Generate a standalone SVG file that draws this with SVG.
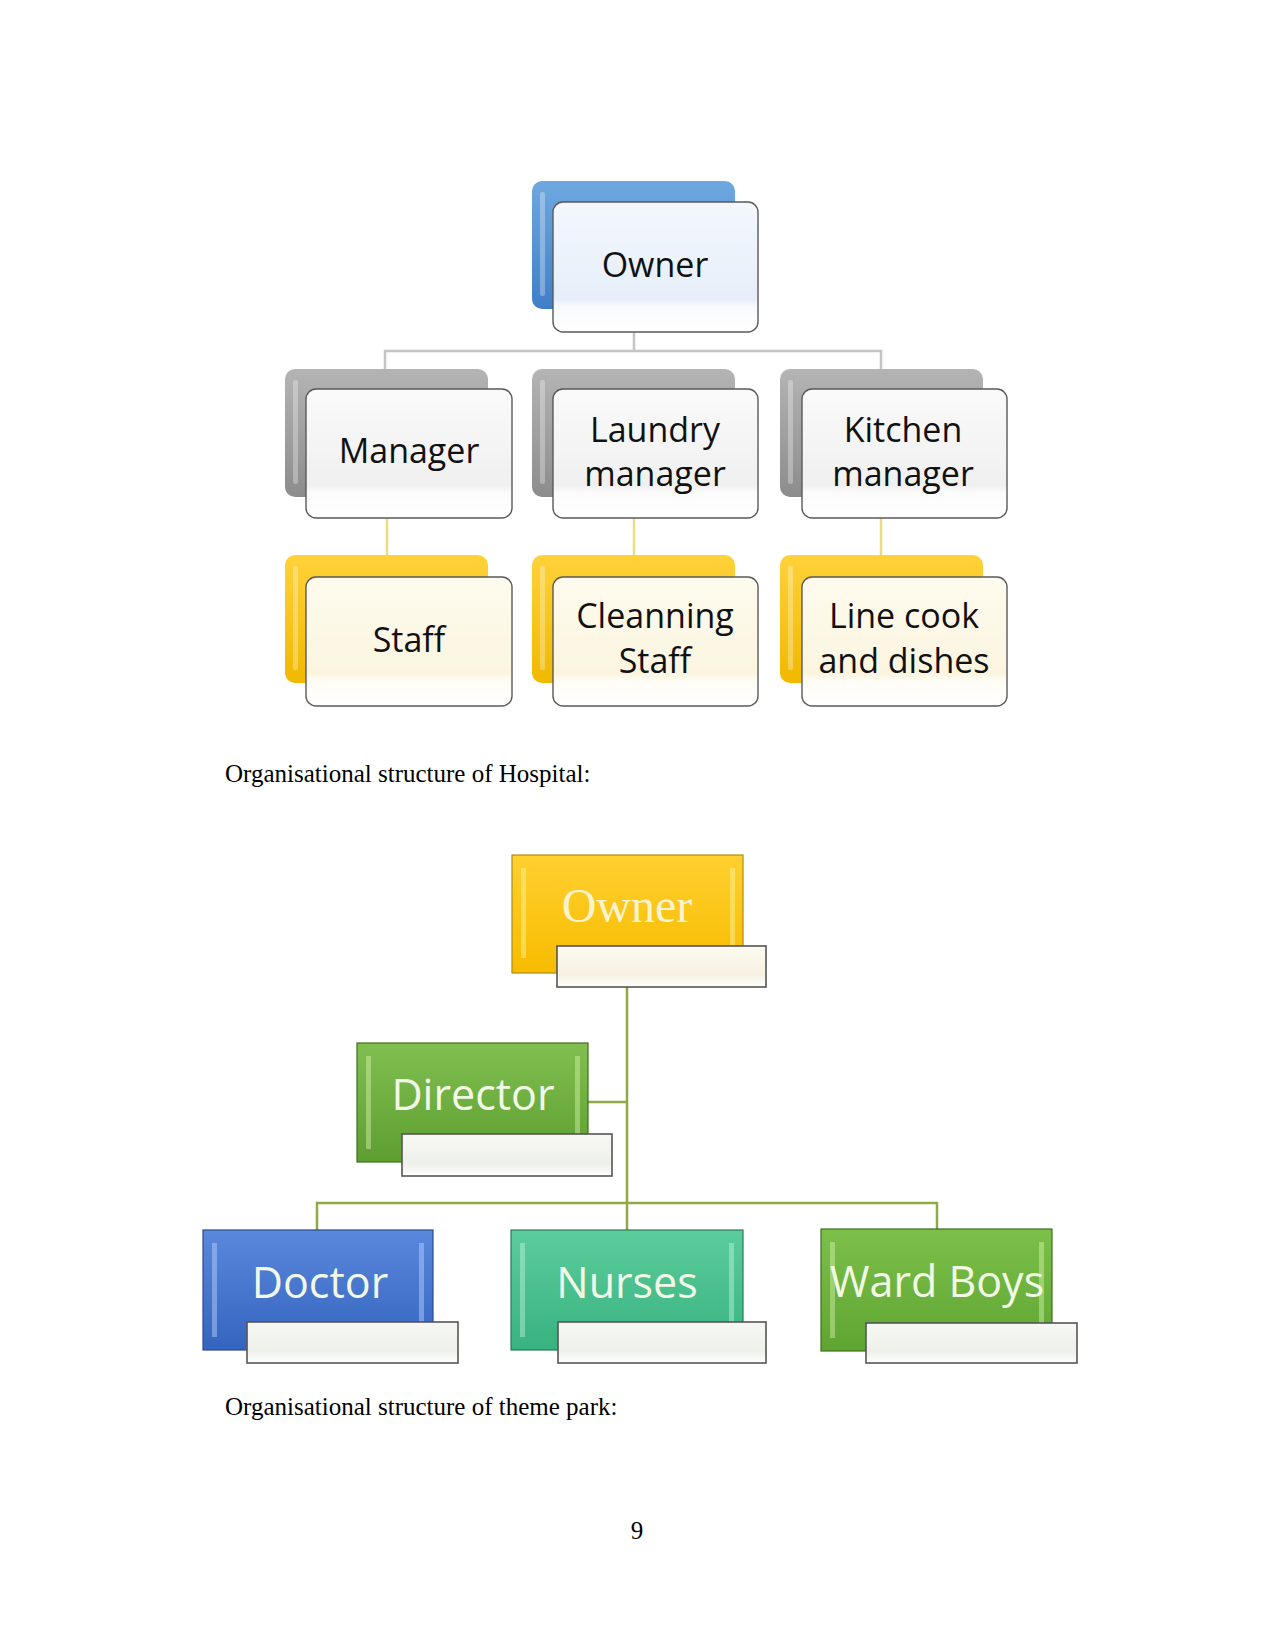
<svg xmlns="http://www.w3.org/2000/svg" width="1275" height="1650" viewBox="0 0 1275 1650">
<defs>
<linearGradient id="gBlue" x1="0" y1="0" x2="0" y2="1"><stop offset="0" stop-color="#6fa8e0"/><stop offset="1" stop-color="#3f7fc8"/></linearGradient>
<linearGradient id="gGray" x1="0" y1="0" x2="0" y2="1"><stop offset="0" stop-color="#b4b4b4"/><stop offset="1" stop-color="#8c8c8c"/></linearGradient>
<linearGradient id="gYel" x1="0" y1="0" x2="0" y2="1"><stop offset="0" stop-color="#ffd23a"/><stop offset="1" stop-color="#f0b800"/></linearGradient>
<linearGradient id="fBlue" x1="0" y1="0" x2="0" y2="1"><stop offset="0" stop-color="#f4f8fd"/><stop offset="0.75" stop-color="#e6eef9"/><stop offset="0.8" stop-color="#f8fafd"/><stop offset="1" stop-color="#ffffff"/></linearGradient>
<linearGradient id="fGray" x1="0" y1="0" x2="0" y2="1"><stop offset="0" stop-color="#fafafa"/><stop offset="0.75" stop-color="#f0f0f0"/><stop offset="0.8" stop-color="#fbfbfb"/><stop offset="1" stop-color="#ffffff"/></linearGradient>
<linearGradient id="fYel" x1="0" y1="0" x2="0" y2="1"><stop offset="0" stop-color="#fefbee"/><stop offset="0.75" stop-color="#fbf5e0"/><stop offset="0.8" stop-color="#fefcf4"/><stop offset="1" stop-color="#ffffff"/></linearGradient>
<linearGradient id="hOwner" x1="0" y1="0" x2="0" y2="1"><stop offset="0" stop-color="#ffd030"/><stop offset="1" stop-color="#f7bc00"/></linearGradient>
<linearGradient id="hDir" x1="0" y1="0" x2="0" y2="1"><stop offset="0" stop-color="#80bf50"/><stop offset="1" stop-color="#5e9e30"/></linearGradient>
<linearGradient id="hDoc" x1="0" y1="0" x2="0" y2="1"><stop offset="0" stop-color="#5a88dc"/><stop offset="1" stop-color="#3564c0"/></linearGradient>
<linearGradient id="hNur" x1="0" y1="0" x2="0" y2="1"><stop offset="0" stop-color="#5ccd9c"/><stop offset="1" stop-color="#38b27f"/></linearGradient>
<linearGradient id="hWard" x1="0" y1="0" x2="0" y2="1"><stop offset="0" stop-color="#7cc04a"/><stop offset="1" stop-color="#5fa532"/></linearGradient>
<linearGradient id="sub" x1="0" y1="0" x2="0" y2="1"><stop offset="0" stop-color="#f7f8f4"/><stop offset="0.7" stop-color="#eef0ea"/><stop offset="1" stop-color="#ffffff"/></linearGradient>
<linearGradient id="subY" x1="0" y1="0" x2="0" y2="1"><stop offset="0" stop-color="#fdfaf0"/><stop offset="0.7" stop-color="#f6f1e2"/><stop offset="1" stop-color="#ffffff"/></linearGradient>
</defs>
<style>
.front{stroke:#5a5a5a;stroke-width:1.4}
.back{stroke:none}
.t1{font-family:"Open Sans","Noto Sans",sans-serif;font-size:34px;fill:#111;text-anchor:middle}
.t2{font-family:"Open Sans","Noto Sans",sans-serif;font-size:43px;fill:#f2f8e6;text-anchor:middle}
.t3{font-family:"Liberation Serif",serif;font-size:48px;fill:#fbf3cf;text-anchor:middle}
.cap{font-family:"Liberation Serif",serif;font-size:25px;fill:#000}
.sub{stroke:#555;stroke-width:1.6}
.hl{fill:#ffffff;opacity:0.3}
.bv{opacity:0.45}
.cg{stroke:#c4c4c4;stroke-width:2.5;fill:none}
.cy{stroke:#ecdc80;stroke-width:2.5;fill:none}
.cgr{stroke:#8daa45;stroke-width:2.5;fill:none}
</style>
<g id="connectors">
<path class="cg" d="M634 332 V351 M385 370 V351 H881 V370"/>
<path class="cy" d="M387 518 V556"/>
<path class="cy" d="M634 518 V556"/>
<path class="cy" d="M881 518 V556"/>
<path class="cgr" d="M627 987 V1230 M588 1102 H627 M317 1230 V1203 H937 V1230"/>
</g>
<g id="node-owner1">
<rect class="back" x="532" y="181" width="203" height="128" rx="10" fill="url(#gBlue)"/>
<rect class="hl" x="540" y="192" width="5" height="104" rx="2"/>
<rect class="front" x="553" y="202" width="205" height="130" rx="10" fill="url(#fBlue)"/>
<text class="t1" x="655" y="277">Owner</text>
</g>
<g id="node-manager">
<rect class="back" x="285" y="369" width="203" height="128" rx="10" fill="url(#gGray)"/>
<rect class="hl" x="293" y="380" width="5" height="104" rx="2"/>
<rect class="front" x="306" y="389" width="206" height="129" rx="10" fill="url(#fGray)"/>
<text class="t1" x="409" y="463">Manager</text>
</g>
<g id="node-laundry">
<rect class="back" x="532" y="369" width="203" height="128" rx="10" fill="url(#gGray)"/>
<rect class="hl" x="540" y="380" width="5" height="104" rx="2"/>
<rect class="front" x="553" y="389" width="205" height="129" rx="10" fill="url(#fGray)"/>
<text class="t1" x="655" y="442">Laundry</text>
<text class="t1" x="655" y="486">manager</text>
</g>
<g id="node-kitchen">
<rect class="back" x="780" y="369" width="203" height="128" rx="10" fill="url(#gGray)"/>
<rect class="hl" x="788" y="380" width="5" height="104" rx="2"/>
<rect class="front" x="802" y="389" width="205" height="129" rx="10" fill="url(#fGray)"/>
<text class="t1" x="903" y="442">Kitchen</text>
<text class="t1" x="903" y="486">manager</text>
</g>
<g id="node-staff">
<rect class="back" x="285" y="555" width="203" height="128" rx="10" fill="url(#gYel)"/>
<rect class="hl" x="293" y="566" width="5" height="104" rx="2"/>
<rect class="front" x="306" y="577" width="206" height="129" rx="10" fill="url(#fYel)" stroke="#8c8450"/>
<text class="t1" x="409" y="652">Staff</text>
</g>
<g id="node-cleaning">
<rect class="back" x="532" y="555" width="203" height="128" rx="10" fill="url(#gYel)"/>
<rect class="hl" x="540" y="566" width="5" height="104" rx="2"/>
<rect class="front" x="553" y="577" width="205" height="129" rx="10" fill="url(#fYel)"/>
<text class="t1" x="655" y="628">Cleanning</text>
<text class="t1" x="655" y="673">Staff</text>
</g>
<g id="node-linecook">
<rect class="back" x="780" y="555" width="203" height="128" rx="10" fill="url(#gYel)"/>
<rect class="hl" x="788" y="566" width="5" height="104" rx="2"/>
<rect class="front" x="802" y="577" width="205" height="129" rx="10" fill="url(#fYel)"/>
<text class="t1" x="904" y="628">Line cook</text>
<text class="t1" x="904" y="673">and dishes</text>
</g>
<text class="cap" x="225" y="782">Organisational structure of Hospital:</text>
<g id="node-owner2">
<rect x="512" y="855" width="231" height="118" fill="url(#hOwner)" stroke="#b08a10" stroke-width="1.2"/>
<rect class="bv" x="521" y="868" width="5" height="90" fill="#fff7a0"/>
<rect class="bv" x="730" y="868" width="5" height="90" fill="#fff7a0"/>
<text class="t3" x="627" y="922">Owner</text>
<rect class="sub" x="557" y="946" width="209" height="41" fill="url(#subY)" stroke="#6a6030"/>
</g>
<g id="node-director">
<rect x="357" y="1043" width="231" height="119" fill="url(#hDir)" stroke="#3f6e20" stroke-width="1.2"/>
<rect class="bv" x="366" y="1056" width="5" height="93" fill="#d8f5a8"/>
<rect class="bv" x="575" y="1056" width="5" height="93" fill="#d8f5a8"/>
<text class="t2" x="473" y="1110">Director</text>
<rect class="sub" x="402" y="1134" width="210" height="42" fill="url(#sub)"/>
</g>
<g id="node-doctor">
<rect x="203" y="1230" width="230" height="120" fill="url(#hDoc)" stroke="#2a4a90" stroke-width="1.2"/>
<rect class="bv" x="212" y="1243" width="5" height="94" fill="#bcd4ff"/>
<rect class="bv" x="419" y="1243" width="5" height="94" fill="#bcd4ff"/>
<text class="t2" x="320" y="1298">Doctor</text>
<rect class="sub" x="247" y="1322" width="211" height="41" fill="url(#sub)" stroke="#444a60"/>
</g>
<g id="node-nurses">
<rect x="511" y="1230" width="232" height="120" fill="url(#hNur)" stroke="#2a7a58" stroke-width="1.2"/>
<rect class="bv" x="520" y="1243" width="5" height="94" fill="#c0f5dc"/>
<rect class="bv" x="729" y="1243" width="5" height="94" fill="#c0f5dc"/>
<text class="t2" x="627" y="1298">Nurses</text>
<rect class="sub" x="558" y="1322" width="208" height="41" fill="url(#sub)" stroke="#3a6a58"/>
</g>
<g id="node-wardboys">
<rect x="821" y="1229" width="231" height="122" fill="url(#hWard)" stroke="#3f6e20" stroke-width="1.2"/>
<rect class="bv" x="830" y="1242" width="5" height="96" fill="#d8f5a8"/>
<rect class="bv" x="1039" y="1242" width="5" height="96" fill="#d8f5a8"/>
<text class="t2" x="937" y="1297">Ward Boys</text>
<rect class="sub" x="866" y="1323" width="211" height="40" fill="url(#sub)" stroke="#5a6a50"/>
</g>
<text class="cap" x="225" y="1415">Organisational structure of theme park:</text>
<text class="cap" x="637" y="1539" text-anchor="middle">9</text>
</svg>
